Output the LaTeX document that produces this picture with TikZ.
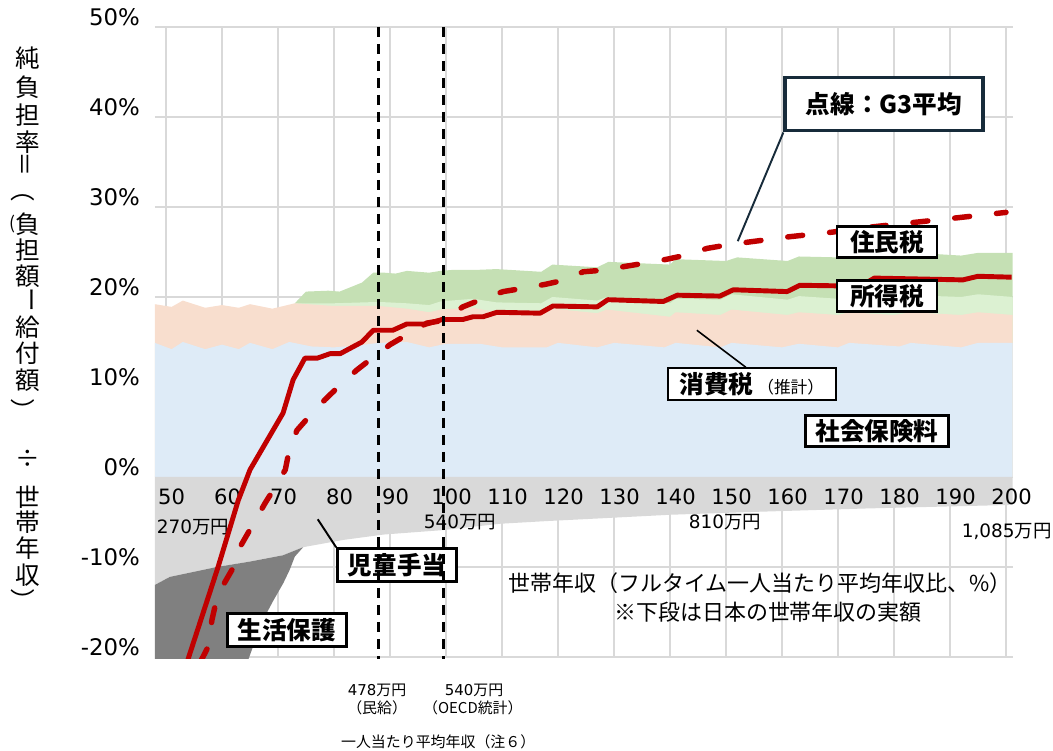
\documentclass[tikz,border=0pt]{standalone}
\usepackage{fontspec}
\setmainfont{DejaVu Sans}
\newfontfamily\jp{Noto Sans CJK JP}
\usepackage{tikz}
\usetikzlibrary{calc}
\definecolor{netred}{RGB}{192,0,0}
\definecolor{gridgray}{RGB}{217,217,217}
\definecolor{sociblue}{RGB}{222,235,247}
\definecolor{conssalmon}{RGB}{248,222,206}
\definecolor{incgreen}{RGB}{220,241,210}
\definecolor{resgreen}{RGB}{197,224,180}
\definecolor{childgray}{RGB}{217,217,217}
\definecolor{welfgray}{RGB}{128,128,128}
\definecolor{calloutnavy}{RGB}{23,43,58}

\begin{document}
\begin{tikzpicture}[x=0.112cm, y=0.18cm,
  gridline/.style={draw=gridgray, line width=0.8pt},
  ticklab/.style={font=\fontsize{13}{15}\selectfont, inner sep=0pt},
  xlab/.style={font=\fontsize{12}{14}\selectfont, inner sep=0pt},
  midlab/.style={font=\fontsize{10.5}{12}\selectfont, inner sep=0pt},
  botlab/.style={font=\fontsize{8.5}{10}\selectfont, inner sep=0pt},
  notelab/.style={font=\jp\fontsize{12.5}{14}\selectfont, inner sep=0pt},
  ytitle/.style={font=\jp\fontsize{14}{16}\selectfont, inner sep=0pt},
  tagbox/.style={draw=black, line width=1.6pt, fill=white, inner xsep=0.2cm, inner ysep=0.04cm,
    minimum height=0.62cm, font=\jp\bfseries\fontsize{14}{16}\selectfont},
  leader/.style={line width=1.1pt},
  netline/.style={netred, line width=2.8pt, line join=round},
  g3line/.style={netred, line width=3.1pt, line cap=round, dash pattern=on 0.3cm off 0.54cm},
  incomeline/.style={black, line width=1.5pt, dash pattern=on 0.2cm off 0.14cm}]
\pgfmathsetmacro{\xmin}{48}
\pgfmathsetmacro{\xmax}{201.2}
\pgfmathsetmacro{\ybot}{-20.2}
\pgfmathsetmacro{\minkyu}{87.9}
\pgfmathsetmacro{\oecd}{99.6}

\useasboundingbox (20.357,-30.444) rectangle (208.393,53);

% grid
\foreach \v in {-20,-10,...,50}
  \draw[gridline] (\xmin,\v) -- (\xmax,\v);
\foreach \u in {50,60,...,200}
  \draw[gridline] (\u,-20) -- (\u,50);

\begin{scope}
\clip (\xmin,\ybot) rectangle (\xmax,50.5);
% stacked burden areas
\fill[resgreen] (73,0) -- (73,19.3) -- (75,20.6) -- (79,20.7) -- (81,20.6) -- (85,21.6) -- (87,22.7)
  -- (89,22.7) -- (91,22.6) -- (93,22.9) -- (97,22.7) -- (99,22.9) -- (101,23.0) -- (105,23.0)
  -- (109,23.1) -- (117,22.8) -- (119,23.6) -- (127,23.3) -- (129,23.9) -- (140,23.6) -- (141,24.2)
  -- (150,24.0) -- (152,24.4) -- (161,24.0) -- (163,24.5) -- (170,24.4) -- (172,24.8) -- (181,24.6)
  -- (184,24.9) -- (192,24.6) -- (195,24.9) -- (\xmax,24.9) -- (\xmax,0) -- cycle;
\fill[incgreen] (73,0) -- (73,19.3) -- (80,19.3) -- (88,19.45) -- (93,19.3) -- (97,19.1) -- (99,19.5)
  -- (104.8,19.8) -- (109,19.4) -- (117,19.3) -- (119,20.0) -- (127,19.6) -- (128.7,20.0) -- (140,19.3)
  -- (141,19.8) -- (149,19.7) -- (151,20.3) -- (161,19.7) -- (163,20.1) -- (170,19.8) -- (172,20.2)
  -- (180,19.9) -- (183,20.2) -- (192,20.0) -- (195,20.3) -- (\xmax,20.0) -- (\xmax,0) -- cycle;
\fill[conssalmon] (\xmin,0) -- (\xmin,19.2) -- (51,18.9) -- (53,19.6) -- (57,18.8) -- (60,19.1)
  -- (63,18.8) -- (65,19.2) -- (69,18.7) -- (73,19.3) -- (80,19.0) -- (88,19.0) -- (93,18.7)
  -- (97,18.3) -- (99,18.6) -- (104.8,18.8) -- (109,18.3) -- (117,18.0) -- (119,18.7) -- (127,18.2)
  -- (128.7,18.6) -- (140,17.8) -- (141,18.3) -- (149,18.0) -- (151,18.6) -- (161,18.0) -- (163,18.3)
  -- (170,18.0) -- (172,18.3) -- (180,18.0) -- (183,18.3) -- (192,18.0) -- (195,18.3) -- (\xmax,18.0)
  -- (\xmax,0) -- cycle;
\fill[sociblue] (\xmin,0) -- (\xmin,14.9) -- (51,14.2) -- (53,15.0) -- (57,14.2) -- (60,14.7)
  -- (63,14.2) -- (65,14.9) -- (69,14.2) -- (72,15.0) -- (76,14.5) -- (80,14.4) -- (84,14.6)
  -- (88,14.9) -- (93,15.0) -- (97,14.4) -- (100,14.8) -- (106,14.8) -- (110,14.4) -- (118,14.4)
  -- (120,14.9) -- (127,14.4) -- (130,14.9) -- (139,14.4) -- (141,14.9) -- (149,14.4) -- (151,14.9)
  -- (160,14.4) -- (163,14.8) -- (170,14.4) -- (172,14.9) -- (181,14.5) -- (183,14.9) -- (192,14.4)
  -- (195,14.9) -- (\xmax,14.9) -- (\xmax,0) -- cycle;
% benefits below zero
\fill[childgray] (\xmin,0) -- (\xmax,0) -- (\xmax,-3.1) -- (175,-3.5) -- (154,-3.9) -- (140,-4.2)
  -- (127.5,-4.6) -- (118,-4.9) -- (109.6,-5.2) -- (99.5,-5.9) -- (88.8,-6.4) -- (81.6,-7.0)
  -- (74.5,-7.8) -- (70.9,-8.7) -- (65,-9.4) -- (59.1,-10) -- (50.7,-11.1) -- (\xmin,-12) -- cycle;
\fill[welfgray] (\xmin,-12) -- (50.7,-11.1) -- (59.1,-10) -- (65,-9.4) -- (70.9,-8.7) -- (74.5,-7.8)
  -- (73,-8.85) -- (72.1,-10.3) -- (70.95,-11.8) -- (69.2,-13.7) -- (68,-15.1) -- (66.2,-17.7)
  -- (64.7,-20.3) -- (\xmin,-20.3) -- cycle;
\end{scope}

% tick labels
\foreach \v in {-20,-10,...,50}
  \node[ticklab, anchor=east] (yl\v) at (45.4,{\v+1.1}) {\v\%};
\foreach \u in {50,60,...,200}
  \node[xlab] (xl\u) at ({\u+1},-2.2) {\u};
\node[midlab] (w270) at (54.8,-5.6) {270{\jp 万円}};
\node[midlab] (w540) at (102.5,-5.0) {540{\jp 万円}};
\node[midlab] (w810) at (149.8,-5.0) {810{\jp 万円}};
\node[midlab, anchor=east] (w1085) at (208.2,-6.0) {1,085{\jp 万円}};
\node[notelab] (xtitle) at (156.1,-11.8) {世帯年収（フルタイム一人当たり平均年収比、\%）};
\node[notelab] (xnote) at (157.5,-15.0) {※下段は日本の世帯年収の実額};

% vertical axis title
\foreach \c/\r/\v/\dx [count=\i] in {純/0/46.5/0, 負/0/43.3/0, 担/0/40.2/0, 率/0/37.2/0, ＝/90/34.8/0,
  （/-90/31.9/-1, 負/0/28.1/0, 担/0/25.2/0, 額/0/22.3/0, ー/-90/19.7/0, 給/0/16.7/0, 付/0/13.8/0,
  額/0/10.8/0, ）/-90/7.4/-1, ÷/0/2.0/0, 世/0/-2.3/0, 帯/0/-5.0/0, 年/0/-7.9/0, 収/0/-10.9/0,
  ）/-90/-13.8/-1}
  \node[ytitle, rotate=\r] (yt\i) at ({25.4+\dx},\v) {\c};
\node[ytitle, font=\jp\fontsize{10}{12}\selectfont] (ytopen) at (22.6,28.1) {(};

% net burden rate: Japan (solid) and G3 (dashed)
\begin{scope}
\clip (\xmin,\ybot) rectangle (\xmax,50.5);
\draw[netline] (53.75,-20.6) -- (59.3,-10) -- (62.9,-2.6) -- (65,0.8) -- (70.9,7.1) -- (72.7,10.8)
  -- (74.8,13.2) -- (77,13.2) -- (79.3,13.7) -- (81.1,13.7) -- (85,15) -- (87,16.3) -- (90.5,16.3)
  -- (93,17) -- (96.6,17) -- (99.3,17.5) -- (103,17.5) -- (104.8,17.8) -- (106.6,17.8) -- (109.1,18.3)
  -- (116.8,18.2) -- (119.1,19) -- (127,18.9) -- (128.9,19.7) -- (138.8,19.5) -- (141.3,20.2)
  -- (148.9,20.1) -- (151.3,20.8) -- (160.9,20.6) -- (163.2,21.3) -- (174,21.2) -- (176.5,22.1)
  -- (192.3,21.9) -- (195,22.3) -- (201,22.2);
\draw[g3line] (56.1,-20.6) -- (57.5,-18.9) -- (58.2,-15.9) -- (59.1,-13.4) -- (60.5,-11.7)
  -- (61.8,-10.3) -- (63.2,-7.8) -- (65.5,-5.3) -- (67.7,-2.9) -- (69.5,-1.1) -- (71.3,0.8)
  -- (72.1,3.3) -- (73.4,5.2) -- (76.1,7.1) -- (78.4,8.6) -- (81.4,10.4) -- (84.1,11.9) -- (87,13.3)
  -- (90,14.7) -- (96.6,17.1) -- (99.5,17.4) -- (103,18.9) -- (106.6,19.8) -- (110.2,20.6)
  -- (114.1,21.0) -- (117.7,21.4) -- (121.3,21.9) -- (124.5,22.8) -- (128.4,23.0) -- (132,23.4)
  -- (135.9,23.8) -- (139.5,24.2) -- (143.2,24.7) -- (146.6,25.4) -- (150.4,25.8) -- (154,26.1)
  -- (161.4,26.7) -- (168.9,27.2) -- (176.3,27.8) -- (183.8,28.3) -- (191.3,28.8) -- (200,29.4);
\end{scope}

% callouts
\coordinate (g3tip) at (152.1,26.2);
\coordinate (shohitip) at (144.8,16.3);
\coordinate (jidotip) at (77.1,-4.7);
\node[tagbox, draw=calloutnavy, line width=1.8pt, minimum width=3.96cm, minimum height=1.06cm] (g3) at (178.2,41.4) {点線：G3平均};
\draw[leader, calloutnavy] (g3.south west) -- (g3tip);
\node[tagbox, minimum width=2cm] (jumin) at (178.75,26.1) {住民税};
\node[tagbox, minimum width=2cm] (shotoku) at (178.75,20.1) {所得税};
\node[tagbox, line width=1.2pt, minimum width=3.36cm, minimum height=0.64cm] (shohi) at (154.6,10.3)
  {消費税\,{\mdseries\fontsize{9.5}{10}\selectfont （推計）}};
\draw[leader, line width=0.9pt] ([xshift=-0.12cm]shohi.north) -- (shohitip);
\node[tagbox, minimum width=2.76cm] (shakai) at (176.96,5.1) {社会保険料};
\node[tagbox, minimum width=2.38cm, minimum height=0.66cm] (jido) at (91.25,-9.8) {児童手当};
\draw[leader] (jido.north west) -- (jidotip);
\node[tagbox, minimum width=2.34cm, minimum height=0.66cm] (seikatsu) at (71.6,-17) {生活保護};

% average income markers
\draw[incomeline] (\minkyu,50) -- (\minkyu,\ybot);
\draw[incomeline] (\oecd,50) -- (\oecd,\ybot);
\node[botlab] (min1) at (87.7,-23.7) {478{\jp 万円}};
\node[botlab] (min2) at (87.7,-25.7) {\jp （民給）};
\node[botlab] (oecd1) at (105,-23.7) {540{\jp 万円}};
\node[botlab] (oecd2) at (104.8,-25.7) {\jp （OECD統計）};
\node[botlab] (avg) at (98.6,-29.4) {\jp 一人当たり平均年収（注６）};
\end{tikzpicture}
\end{document}
